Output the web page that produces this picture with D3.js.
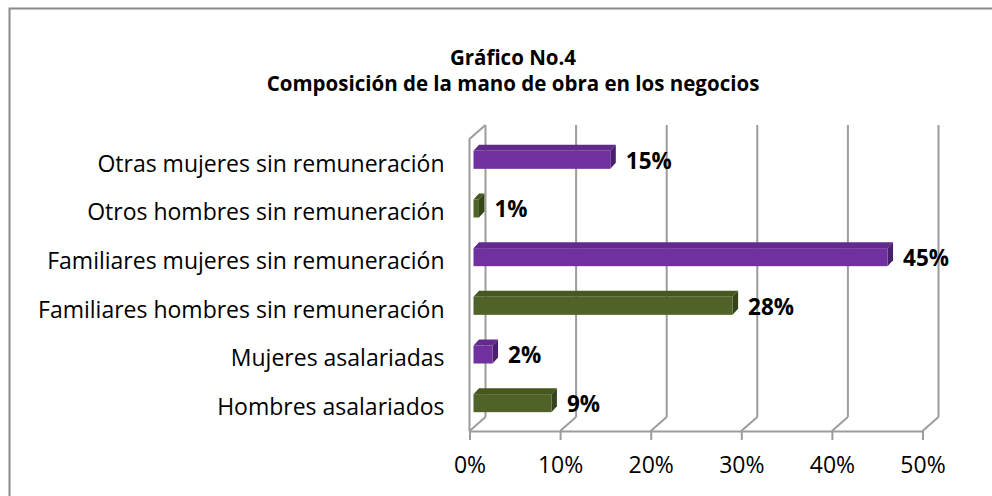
<!DOCTYPE html>
<html>
<head>
<meta charset="utf-8">
<script src="https://cdn.jsdelivr.net/npm/d3@7"></script>
<style>
  body { margin: 0; background: #fff; }
  svg { display: block; font-family: "Open Sans", Carlito, Calibri, sans-serif; }
</style>
</head>
<body>
<div id="chart"></div>
<script>
const width = 992;
const height = 496;
const font = "'Open Sans', Carlito, Calibri, sans-serif";

// categories, bottom to top as in the original sheet
const categories = [
  "Hombres asalariados",
  "Mujeres asalariadas",
  "Familiares hombres sin remuneración",
  "Familiares mujeres sin remuneración",
  "Otros hombres sin remuneración",
  "Otras mujeres sin remuneración"
];
const values = [8.6, 2.1, 28.6, 45.7, 0.6, 15.1];
const valueLabels = ["9%", "2%", "28%", "45%", "1%", "15%"];
const sex = ["h", "m", "h", "m", "h", "m"];
const xTicks = [0, 10, 20, 30, 40, 50];

const rows = categories.map((c, i) => ({ cat: c, value: values[i], label: valueLabels[i], sex: sex[i] }));

// 3d geometry: depth of the wall/floor and of the bars
const depth = { x: 16, y: -14 };
const plane = { x: 4, y: -3.5 };   // bars sit a bit inside the box
const barDepth = { x: 5.5, y: -6 };

const frontColor = d3.scaleOrdinal().domain(["h", "m"]).range(["#4F6228", "#7030A0"]);
const topColor = d3.scaleOrdinal().domain(["h", "m"]).range(["#46571f", "#632a8e"]);
const sideColor = d3.scaleOrdinal().domain(["h", "m"]).range(["#36441a", "#4c1f6e"]);

const svg = d3.select("#chart").append("svg")
  .attr("width", width)
  .attr("height", height);

// chart border
svg.append("rect")
  .attr("x", 9.5).attr("y", 8.5)
  .attr("width", 1000).attr("height", 500)
  .attr("fill", "none")
  .attr("stroke", "#8a8a8a")
  .attr("stroke-width", 2);

// title
const title = svg.append("text")
  .attr("text-anchor", "middle")
  .attr("font-weight", "bold")
  .attr("font-size", 20.5)
  .attr("font-family", font)
  .attr("fill", "#000");
title.append("tspan").attr("x", 513).attr("y", 65).text("Gráfico No.4");
title.append("tspan").attr("x", 513).attr("y", 91).text("Composición de la mano de obra en los negocios");

const floorY = 431;
const x = d3.scaleLinear().domain([0, 50]).range([469.5, 922.5]);
const y = d3.scaleBand()
  .domain(categories)
  .range([431, 139])
  .paddingInner(0.63)
  .paddingOuter(0.315);

const grid = svg.append("g")
  .attr("stroke", "#9c9c9c")
  .attr("stroke-width", 2)
  .attr("fill", "none");

// back wall gridlines
grid.selectAll(".back")
  .data(xTicks)
  .join("line")
  .attr("x1", d => x(d) + depth.x).attr("x2", d => x(d) + depth.x)
  .attr("y1", floorY + depth.y).attr("y2", 139 + depth.y);

// floor depth lines
grid.selectAll(".floor")
  .data(xTicks)
  .join("line")
  .attr("x1", d => x(d)).attr("x2", d => x(d) + depth.x)
  .attr("y1", floorY).attr("y2", floorY + depth.y);

// left wall
grid.append("path")
  .attr("d", d3.line()([
    [x(0), floorY], [x(0), 139], [x(0) + depth.x, 139 + depth.y]
  ]));

// x axis on the front edge of the floor
const xAxis = d3.axisBottom(x)
  .tickValues(xTicks)
  .tickFormat(d => d + "%")
  .tickSize(9)
  .tickSizeOuter(0);

const gx = svg.append("g")
  .attr("transform", "translate(0," + floorY + ")")
  .call(xAxis);
gx.select(".domain").attr("stroke", "#9c9c9c").attr("stroke-width", 2);
gx.selectAll(".tick line").attr("stroke", "#9c9c9c").attr("stroke-width", 2);
gx.selectAll(".tick text")
  .attr("y", 34)
  .attr("dy", "0.35em")
  .attr("font-size", 23)
  .attr("font-family", font)
  .attr("fill", "#000");

// category axis
const yAxis = d3.axisLeft(y).tickSize(0).tickPadding(25);
const gy = svg.append("g")
  .attr("transform", "translate(" + x(0) + ",0)")
  .call(yAxis);
gy.select(".domain").remove();
gy.selectAll(".tick text")
  .attr("font-size", 23)
  .attr("dy", "0.36em")
  .attr("font-family", font)
  .attr("fill", "#000");

// bars
const bars = svg.append("g").selectAll("g")
  .data(rows)
  .join("g")
  .attr("transform", d => "translate(" + plane.x + "," + (y(d.cat) + plane.y) + ")");

const bw = y.bandwidth();

bars.append("path")
  .attr("fill", d => topColor(d.sex))
  .attr("d", d => d3.line()([
    [x(0), 0], [x(d.value), 0],
    [x(d.value) + barDepth.x, barDepth.y], [x(0) + barDepth.x, barDepth.y]
  ]) + "Z");

bars.append("path")
  .attr("fill", d => sideColor(d.sex))
  .attr("d", d => d3.line()([
    [x(d.value), 0], [x(d.value) + barDepth.x, barDepth.y],
    [x(d.value) + barDepth.x, bw + barDepth.y], [x(d.value), bw]
  ]) + "Z");

bars.append("rect")
  .attr("x", x(0))
  .attr("y", 0)
  .attr("width", d => x(d.value) - x(0))
  .attr("height", bw)
  .attr("fill", d => frontColor(d.sex));

// value labels
bars.append("text")
  .attr("x", d => x(d.value) + barDepth.x + 10)
  .attr("y", bw / 2 + 1)
  .attr("dy", "0.35em")
  .attr("font-size", 22.5)
  .attr("font-weight", "bold")
  .attr("font-family", font)
  .attr("fill", "#000")
  .text(d => d.label);
</script>
</body>
</html>
